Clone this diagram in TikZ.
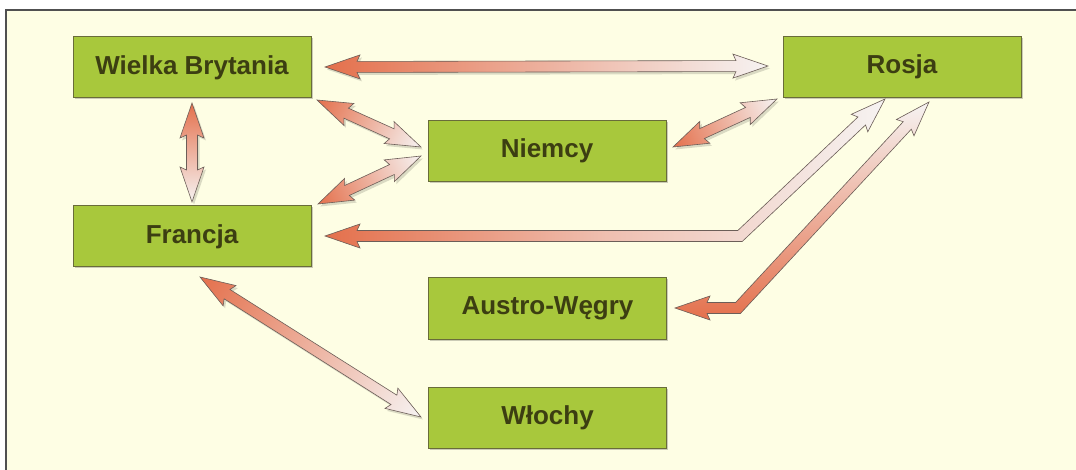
\documentclass[tikz,border=0pt]{standalone}
\usepackage{fontspec}
\setmainfont{Liberation Sans}
\usetikzlibrary{shadows,calc}
\definecolor{bg}{RGB}{254,254,228}
\definecolor{boxgreen}{RGB}{168,200,60}
\definecolor{boxedge}{RGB}{105,108,58}
\definecolor{txt}{RGB}{60,62,18}
\definecolor{ared}{RGB}{228,112,76}
\definecolor{awhite}{RGB}{246,243,242}
\definecolor{aedge}{RGB}{108,94,88}
\definecolor{frameclr}{RGB}{80,80,80}
\tikzset{
  country/.style={draw=boxedge, line width=1pt, fill=boxgreen, minimum width=238pt,
    minimum height=61pt, inner sep=0pt, font=\fontsize{26}{30}\selectfont\bfseries, text=txt,
    drop shadow={shadow xshift=1.5pt, shadow yshift=-1.5pt, fill=black, opacity=.2}},
  arrowline/.style={draw=aedge, line width=.6pt, line join=miter},
  arrowbody/.style={arrowline, left color=ared, right color=awhite},
  arrowshadow/.style={fill=black, opacity=.14},
}
\makeatletter
\newcommand\garrow[2]{%
  \pgfpointanchor{#1}{center}\edef\ga@xa{\the\pgf@x}\edef\ga@ya{\the\pgf@y}%
  \pgfpointanchor{#2}{center}\edef\ga@xb{\the\pgf@x}\edef\ga@yb{\the\pgf@y}%
  \pgfmathsetmacro\ga@L{veclen(\ga@xb-\ga@xa,\ga@yb-\ga@ya)}%
  \pgfmathsetmacro\ga@A{atan2(\ga@yb-\ga@ya,\ga@xb-\ga@xa)}%
  \pgfmathsetmacro\ga@La{\ga@L-32}%
  \pgfmathsetmacro\ga@Lb{\ga@L-35}%
  \begin{scope}[transform canvas={shift={(#1)},shift={(2pt,-2.5pt)},rotate=\ga@A}]
    \fill[arrowshadow] (0pt,0pt) -- (35pt,12pt) -- (32pt,5.5pt) -- (\ga@La pt,5.5pt) -- (\ga@Lb pt,12pt) -- (\ga@L pt,0pt) -- (\ga@Lb pt,-12pt) -- (\ga@La pt,-5.5pt) -- (32pt,-5.5pt) -- (35pt,-12pt) -- cycle;
  \end{scope}
  \begin{scope}[transform canvas={shift={(#1)},rotate=\ga@A}]
    \shade[arrowbody] (0pt,0pt) -- (35pt,12pt) -- (32pt,5.5pt) -- (\ga@La pt,5.5pt) -- (\ga@Lb pt,12pt) -- (\ga@L pt,0pt) -- (\ga@Lb pt,-12pt) -- (\ga@La pt,-5.5pt) -- (32pt,-5.5pt) -- (35pt,-12pt) -- cycle;
  \end{scope}}
\makeatother
\begin{document}
\begin{tikzpicture}[x=1pt,y=-1pt]
\useasboundingbox (0,0) rectangle (1076,470);
\fill[white] (0,0) rectangle (1076,470);
\fill[bg] (6,10) rectangle (1076,470);
\draw[frameclr, line width=1.5pt] (6,470) -- (6,10) -- (1076,10);

% boxes
\node[country] (wb) at (192,67.5) {Wielka Brytania};
\node[country] (ru) at (902,67) {Rosja};
\node[country] (de) at (547,151) {Niemcy};
\node[country] (fr) at (192,236.5) {Francja};
\node[country] (at) at (547.5,308.5) {Austro-Węgry};
\node[country] (it) at (547.5,417.5) {Włochy};

% arrow end points (red end, white end)
\coordinate (wbru1) at (325,67);  \coordinate (wbru2) at (768,66);
\coordinate (wbde1) at (317,100); \coordinate (wbde2) at (421,147);
\coordinate (frde1) at (318,204); \coordinate (frde2) at (421,156);
\coordinate (deru1) at (673,147); \coordinate (deru2) at (777,99);
\coordinate (wbfr1) at (192,103); \coordinate (wbfr2) at (192,202);
\coordinate (frit1) at (200,277); \coordinate (frit2) at (421,417);

\garrow{wbru1}{wbru2}
\garrow{wbde1}{wbde2}
\garrow{frde1}{frde2}
\garrow{deru1}{deru2}
\garrow{wbfr1}{wbfr2}
\garrow{frit1}{frit2}

% bent arrow Francja - Rosja
\coordinate (frr1) at (325,236);
\coordinate (frr2) at (740,236);
\coordinate (frr3) at (885,99);
\coordinate (frrA) at ($(frr3)!32pt!(frr2)$);
\coordinate (frrB) at ($(frr3)!35pt!(frr2)$);
\fill[arrowshadow, shift={(2,2.5)}] (frr1) -- ($(frr1)+(35,-12)$) -- ($(frr1)+(32,-5.5)$) -- ($(frr2)+(-2.2,-5.5)$)
  -- ($(frrA)!5.5pt!90:(frr3)$) -- ($(frrB)!12pt!90:(frr3)$) -- (frr3) -- ($(frrB)!12pt!-90:(frr3)$)
  -- ($(frrA)!5.5pt!-90:(frr3)$) -- ($(frr2)+(2.2,5.5)$) -- ($(frr1)+(32,5.5)$) -- ($(frr1)+(35,12)$) -- cycle;
\shade[arrowline, left color=ared, right color=awhite, middle color=ared!40!awhite]
  (frr1) -- ($(frr1)+(35,-12)$) -- ($(frr1)+(32,-5.5)$) -- ($(frr2)+(-2.2,-5.5)$)
  -- ($(frrA)!5.5pt!90:(frr3)$) -- ($(frrB)!12pt!90:(frr3)$) -- (frr3) -- ($(frrB)!12pt!-90:(frr3)$)
  -- ($(frrA)!5.5pt!-90:(frr3)$) -- ($(frr2)+(2.2,5.5)$) -- ($(frr1)+(32,5.5)$) -- ($(frr1)+(35,12)$) -- cycle;

% bent arrow Austro-Wegry - Rosja
\coordinate (atr1) at (675,308);
\coordinate (atr2) at (738,308);
\coordinate (atr3) at (929,102);
\coordinate (atrA) at ($(atr3)!32pt!(atr2)$);
\coordinate (atrB) at ($(atr3)!35pt!(atr2)$);
\fill[arrowshadow, shift={(2,2.5)}] (atr1) -- ($(atr1)+(35,-12)$) -- ($(atr1)+(32,-5.5)$) -- ($(atr2)+(-2.4,-5.5)$)
  -- ($(atrA)!5.5pt!90:(atr3)$) -- ($(atrB)!12pt!90:(atr3)$) -- (atr3) -- ($(atrB)!12pt!-90:(atr3)$)
  -- ($(atrA)!5.5pt!-90:(atr3)$) -- ($(atr2)+(2.4,5.5)$) -- ($(atr1)+(32,5.5)$) -- ($(atr1)+(35,12)$) -- cycle;
\shade[arrowline, bottom color=ared, top color=awhite, middle color=ared!50!awhite]
  (atr1) -- ($(atr1)+(35,-12)$) -- ($(atr1)+(32,-5.5)$) -- ($(atr2)+(-2.4,-5.5)$)
  -- ($(atrA)!5.5pt!90:(atr3)$) -- ($(atrB)!12pt!90:(atr3)$) -- (atr3) -- ($(atrB)!12pt!-90:(atr3)$)
  -- ($(atrA)!5.5pt!-90:(atr3)$) -- ($(atr2)+(2.4,5.5)$) -- ($(atr1)+(32,5.5)$) -- ($(atr1)+(35,12)$) -- cycle;
\end{tikzpicture}
\end{document}
